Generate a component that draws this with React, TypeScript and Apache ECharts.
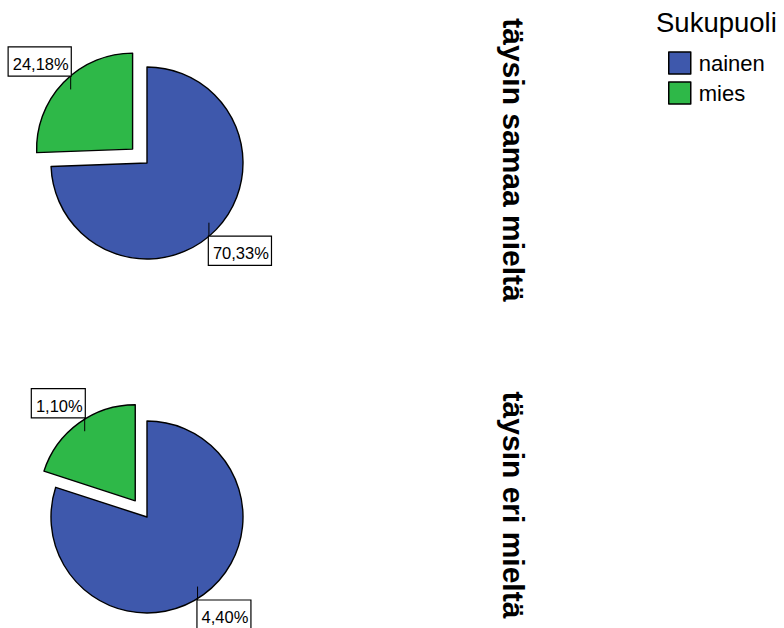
import React, { useEffect, useRef } from "react";
import * as echarts from "echarts";

// Gender split inside each answer group (percent of all respondents)
const categories = ["nainen", "mies"];
const groupNames = ["täysin samaa mieltä", "täysin eri mieltä"];
const samaaValues = [70.33, 24.18];
const eriValues = [4.4, 1.1];
const legendTitle = "Sukupuoli";

const groupValues = [samaaValues, eriValues];
const COLORS = ["#3E58AC", "#2EB848"];
const FONT = '"Liberation Sans", Arial, Helvetica, sans-serif';
const RADIUS = 96;
const EXPLODED = 1; // index of the pulled-out slice
const EXPLODE_OFFSET = 20;
const LABEL_INSET = 10;
const LABEL_TICK = 14;

const fmt = (v: number) => v.toFixed(2).replace(".", ",") + "%";

function makePie(name: string, values: number[], center: [number, number]) {
  return {
    type: "pie",
    name,
    center,
    radius: RADIUS,
    startAngle: 90,
    clockwise: true,
    selectedMode: "multiple",
    selectedOffset: EXPLODE_OFFSET,
    emphasis: { disabled: true },
    itemStyle: { borderColor: "#000", borderWidth: 1.4 },
    label: { show: false },
    labelLine: { show: false },
    data: values.map((v, i) => ({
      name: categories[i],
      value: v,
      selected: i === EXPLODED,
      itemStyle: { color: COLORS[i] },
      select: { itemStyle: { color: COLORS[i], borderColor: "#000", borderWidth: 1.4 } },
    })),
  };
}

// Boxed value labels on a short vertical tick, anchored just inside each
// slice's outer edge at its middle angle (taken from the pie's own layout).
function buildValueLabels(chart: any) {
  const model = chart.getModel();
  const out: any[] = [];
  groupValues.forEach((values, si) => {
    const series = model.getSeriesByIndex(si);
    const data = series.getData();
    values.forEach((v, i) => {
      const lay = data.getItemLayout(i);
      if (!lay) return;
      const mid = (lay.startAngle + lay.endAngle) / 2;
      const ux = Math.cos(mid);
      const uy = Math.sin(mid);
      const shift = i === EXPLODED ? EXPLODE_OFFSET : 0;
      const dist = shift + lay.r - LABEL_INSET;
      const sx = lay.cx + ux * dist;
      const sy = lay.cy + uy * dist;
      const down = uy > 0;
      const ey = sy + (down ? LABEL_TICK : -LABEL_TICK);
      out.push({
        type: "line",
        z: 100,
        shape: { x1: sx, y1: sy, x2: sx, y2: ey },
        style: { stroke: "#000", lineWidth: 1 },
      });
      out.push({
        type: "text",
        z: 101,
        x: sx,
        y: ey,
        style: {
          text: fmt(v),
          font: `16.5px ${FONT}`,
          lineHeight: 17,
          fill: "#000",
          align: ux > 0 ? "left" : "right",
          verticalAlign: down ? "top" : "bottom",
          backgroundColor: "#fff",
          borderColor: "#000",
          borderWidth: 1.2,
          padding: [8, 2, 3, 4],
        },
      });
    });
  });
  return out;
}

function groupTitle(text: string, y: number) {
  return {
    type: "text",
    x: 513,
    y,
    rotation: -Math.PI / 2,
    style: {
      text,
      font: `bold 30px ${FONT}`,
      fill: "#000",
      align: "center",
      verticalAlign: "middle",
    },
  };
}

export default function App() {
  const ref = useRef<HTMLDivElement>(null);

  useEffect(() => {
    if (!ref.current) return;
    const chart = echarts.init(ref.current, null, { renderer: "svg" });
    chart.setOption({
      animation: false,
      backgroundColor: "#fff",
      title: {
        text: legendTitle,
        left: 656,
        top: 9,
        padding: 0,
        textStyle: {
          fontFamily: FONT,
          fontSize: 27.5,
          lineHeight: 27,
          fontWeight: "normal",
          color: "#000",
        },
      },
      legend: {
        data: categories,
        orient: "vertical",
        left: 668,
        top: 50,
        padding: 0,
        itemGap: 4,
        itemWidth: 22,
        itemHeight: 22,
        icon: "rect",
        selectedMode: false,
        itemStyle: { borderColor: "#000", borderWidth: 1.5 },
        textStyle: {
          fontFamily: FONT,
          fontSize: 22,
          lineHeight: 22,
          color: "#000",
          padding: [4, 0, 0, 3],
        },
      },
      series: [
        makePie(groupNames[0], samaaValues, [147, 163]),
        makePie(groupNames[1], eriValues, [147, 517]),
      ],
    });
    chart.setOption({
      graphic: [
        groupTitle(groupNames[0], 160),
        groupTitle(groupNames[1], 505),
        ...buildValueLabels(chart),
      ],
    });
    return () => chart.dispose();
  }, []);

  return (
    <div
      ref={ref}
      style={{ position: "fixed", left: 0, top: 0, width: 784, height: 628 }}
    />
  );
}
